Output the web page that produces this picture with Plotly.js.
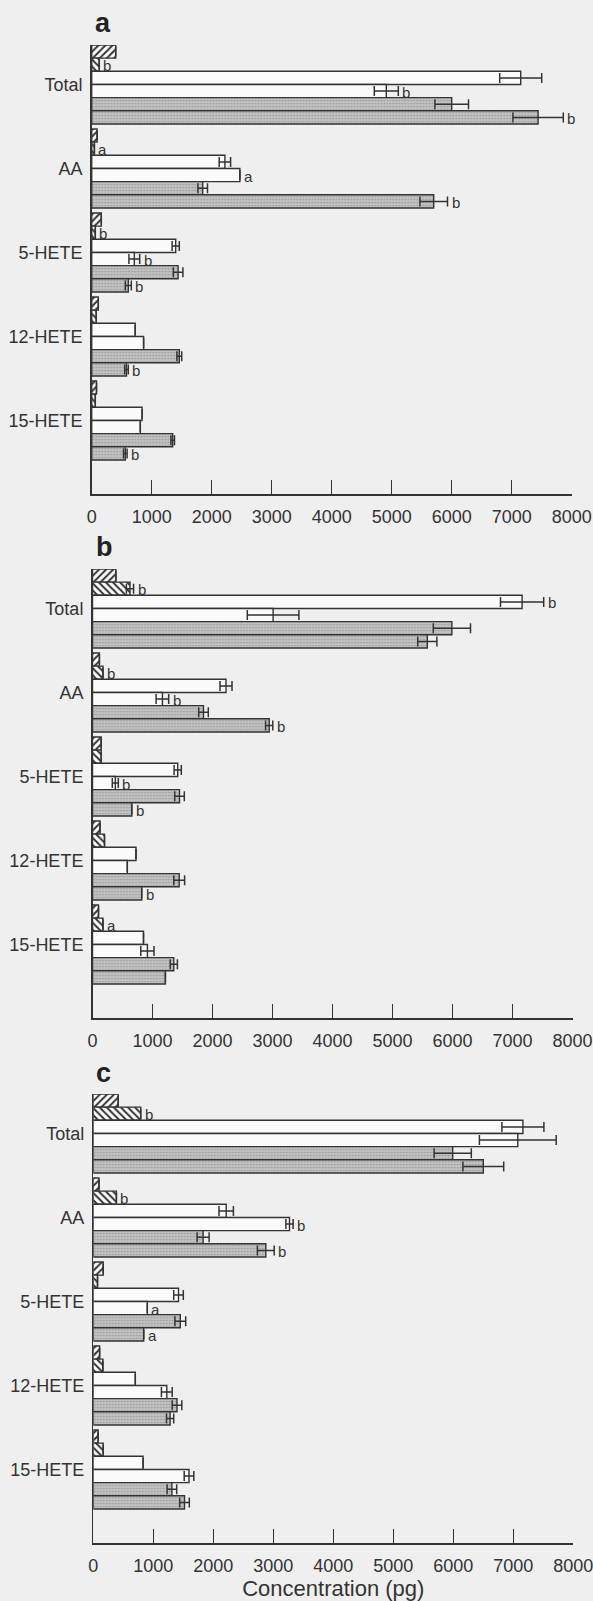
<!DOCTYPE html>
<html>
<head>
<meta charset="utf-8">
<script src="https://cdn.plot.ly/plotly-3.0.1.min.js"></script>
<style>
  html, body { margin: 0; padding: 0; background: #efefef; }
  #chart { width: 593px; height: 1601px; }
</style>
</head>
<body>
<div id="chart"></div>
<script>
// ---------- DATA ----------
const groups = ['Total', 'AA', '5-HETE', '12-HETE', '15-HETE'];
const panelLabels = ['a', 'b', 'c'];
const tickValues = [0, 1000, 2000, 3000, 4000, 5000, 6000, 7000, 8000];
const xTitle = 'Concentration (pg)';

// Panel a
const a_hatch1 = [400, 90, 160, 110, 80];
const a_hatch2 = [125, 45, 60, 75, 60];
const a_white1 = [7150, 2220, 1400, 725, 840];
const a_white2 = [4910, 2470, 710, 865, 810];
const a_gray1  = [6000, 1850, 1440, 1460, 1350];
const a_gray2  = [7440, 5700, 610, 580, 560];
const a_err_hatch1 = [null, null, null, null, null];
const a_err_hatch2 = [null, null, null, null, null];
const a_err_white1 = [350, 95, 60, null, null];
const a_err_white2 = [200, null, 90, null, null];
const a_err_gray1  = [280, 80, 80, 40, 30];
const a_err_gray2  = [420, 230, 50, 30, 30];
const a_sig_hatch1 = ['', '', '', '', ''];
const a_sig_hatch2 = ['b', 'a', 'b', '', ''];
const a_sig_white1 = ['', '', '', '', ''];
const a_sig_white2 = ['b', 'a', 'b', '', ''];
const a_sig_gray1  = ['', '', '', '', ''];
const a_sig_gray2  = ['b', 'b', 'b', 'b', 'b'];

// Panel b
const b_hatch1 = [390, 115, 145, 125, 100];
const b_hatch2 = [625, 175, 145, 200, 175];
const b_white1 = [7160, 2225, 1420, 725, 850];
const b_white2 = [3010, 1165, 380, 580, 915];
const b_gray1  = [5990, 1850, 1450, 1445, 1355];
const b_gray2  = [5580, 2945, 655, 820, 1215];
const b_err_hatch1 = [null, null, null, null, null];
const b_err_hatch2 = [60, null, null, null, null];
const b_err_white1 = [360, 100, 60, null, null];
const b_err_white2 = [430, 105, 50, null, 110];
const b_err_gray1  = [310, 80, 80, 90, 60];
const b_err_gray2  = [160, 60, null, null, null];
const b_sig_hatch1 = ['', '', '', '', ''];
const b_sig_hatch2 = ['b', 'b', '', '', 'a'];
const b_sig_white1 = ['b', '', '', '', ''];
const b_sig_white2 = ['', 'b', 'b', '', ''];
const b_sig_gray1  = ['', '', '', '', ''];
const b_sig_gray2  = ['', 'b', 'b', 'b', ''];

// Panel c
const c_hatch1 = [415, 95, 165, 105, 80];
const c_hatch2 = [790, 385, 70, 160, 165];
const c_white1 = [7160, 2215, 1420, 700, 830];
const c_white2 = [7075, 3270, 900, 1225, 1595];
const c_gray1  = [5990, 1830, 1450, 1395, 1310];
const c_gray2  = [6500, 2875, 840, 1280, 1520];
const c_err_hatch1 = [null, null, null, null, null];
const c_err_hatch2 = [null, null, null, null, null];
const c_err_white1 = [350, 120, 80, null, null];
const c_err_white2 = [640, 60, null, 90, 80];
const c_err_gray1  = [310, 100, 90, 80, 80];
const c_err_gray2  = [340, 140, null, 60, 80];
const c_sig_hatch1 = ['', '', '', '', ''];
const c_sig_hatch2 = ['b', 'b', '', '', ''];
const c_sig_white1 = ['', '', '', '', ''];
const c_sig_white2 = ['', 'b', 'a', '', ''];
const c_sig_gray1  = ['', '', '', '', ''];
const c_sig_gray2  = ['', 'b', 'a', '', ''];

// ---------- STYLE ----------
const INK = '#333333';
const FONT = 'Liberation Sans, Arial, sans-serif';
const W = 593, H = 1601;
const BARGAP = 0.06;
const NS = 6;

const seriesStyles = [
  {color: '#fbfbfb', pattern: {shape: '/', fgcolor: INK, bgcolor: '#fbfbfb', size: 5, solidity: 0.4}},
  {color: '#fbfbfb', pattern: {shape: '\\', fgcolor: INK, bgcolor: '#fbfbfb', size: 5, solidity: 0.4}},
  {color: '#fbfbfb'},
  {color: '#fbfbfb'},
  {color: '#bcbcbc', pattern: {shape: '.', fgcolor: '#999999', bgcolor: '#c2c2c2', size: 3, solidity: 0.25}},
  {color: '#bcbcbc', pattern: {shape: '.', fgcolor: '#999999', bgcolor: '#c2c2c2', size: 3, solidity: 0.25}}
];

const panels = [
  {vals: [a_hatch1, a_hatch2, a_white1, a_white2, a_gray1, a_gray2],
   errs: [a_err_hatch1, a_err_hatch2, a_err_white1, a_err_white2, a_err_gray1, a_err_gray2],
   sigs: [a_sig_hatch1, a_sig_hatch2, a_sig_white1, a_sig_white2, a_sig_gray1, a_sig_gray2],
   x0: 91.7, top: 45, bottom: 494, letterBase: 31},
  {vals: [b_hatch1, b_hatch2, b_white1, b_white2, b_gray1, b_gray2],
   errs: [b_err_hatch1, b_err_hatch2, b_err_white1, b_err_white2, b_err_gray1, b_err_gray2],
   sigs: [b_sig_hatch1, b_sig_hatch2, b_sig_white1, b_sig_white2, b_sig_gray1, b_sig_gray2],
   x0: 92.5, top: 569, bottom: 1018, letterBase: 555},
  {vals: [c_hatch1, c_hatch2, c_white1, c_white2, c_gray1, c_gray2],
   errs: [c_err_hatch1, c_err_hatch2, c_err_white1, c_err_white2, c_err_gray1, c_err_gray2],
   sigs: [c_sig_hatch1, c_sig_hatch2, c_sig_white1, c_sig_white2, c_sig_gray1, c_sig_gray2],
   x0: 93.3, top: 1094, bottom: 1543, letterBase: 1081}
];

const PX_PER_1000 = 60;
const groupIdx = groups.map((g, i) => i);
const half = (1 - BARGAP) / 2;
const yTop = -half;

const traces = [];
const layout = {
  width: W, height: H,
  margin: {l: 0, r: 0, t: 0, b: 0},
  paper_bgcolor: '#efefef',
  plot_bgcolor: 'rgba(0,0,0,0)',
  showlegend: false,
  barmode: 'group',
  bargap: BARGAP,
  bargroupgap: 0,
  font: {family: FONT, color: INK},
  annotations: []
};

panels.forEach((p, pi) => {
  const sfx = pi === 0 ? '' : String(pi + 1);
  const xa = 'x' + sfx, ya = 'y' + sfx;
  const x1 = p.x0 + 8 * PX_PER_1000;
  const plotH = p.bottom - p.top;
  const unitPx = 84;
  const yBottom = yTop + plotH / unitPx;

  p.vals.forEach((v, si) => {
    const st = seriesStyles[si];
    const marker = {color: st.color, line: {color: INK, width: 1.4}};
    if (st.pattern) marker.pattern = st.pattern;
    traces.push({
      type: 'bar', orientation: 'h',
      name: 'Series ' + (si + 1),
      x: v, y: groupIdx,
      xaxis: xa, yaxis: ya,
      marker: marker,
      error_x: {type: 'data', array: p.errs[si], visible: true, color: INK, thickness: 1.5, width: 5},
      hoverinfo: 'x'
    });
    // significance letters next to bars / error bars
    v.forEach((val, k) => {
      const s = p.sigs[si][k];
      if (!s) return;
      layout.annotations.push({
        text: s,
        xref: xa, yref: ya,
        x: val + (p.errs[si][k] || 0),
        y: k - half + (si + 0.5) * (1 - BARGAP) / NS,
        xanchor: 'left', yanchor: 'middle',
        xshift: 2, yshift: -1,
        showarrow: false,
        font: {family: FONT, size: 15, color: INK}
      });
    });
  });

  layout['xaxis' + sfx] = {
    domain: [p.x0 / W, x1 / W],
    anchor: ya,
    range: [0, 8000],
    tickvals: tickValues,
    ticktext: tickValues.map(String),
    ticks: 'inside', ticklen: 14, tickwidth: 1.5, tickcolor: INK,
    showline: true, linecolor: INK, linewidth: 1.5,
    showgrid: false, zeroline: false,
    tickfont: {family: FONT, size: 18, color: INK},
    ticklabelstandoff: 6,
    ticklabeloverflow: 'allow',
    fixedrange: true
  };
  if (pi === 2) {
    layout['xaxis' + sfx].title = {text: xTitle, font: {family: FONT, size: 22, color: INK}, standoff: 13};
  }
  layout['yaxis' + sfx] = {
    domain: [1 - p.bottom / H, 1 - p.top / H],
    anchor: xa,
    range: [yBottom, yTop],
    tickvals: groupIdx,
    ticktext: groups,
    ticks: '',
    showline: true, linecolor: INK, linewidth: 1.5,
    showgrid: false, zeroline: false,
    tickfont: {family: FONT, size: 18, color: INK},
    ticklabelstandoff: 4,
    fixedrange: true
  };
  layout.annotations.push({
    text: '<b>' + panelLabels[pi] + '</b>',
    xref: 'paper', yref: 'paper',
    x: (p.x0 + 1) / W, y: 1 - (p.letterBase - 8) / H,
    xanchor: 'left', yanchor: 'middle',
    showarrow: false,
    font: {family: FONT, size: 27, color: '#222'}
  });
});

Plotly.newPlot('chart', traces, layout, {staticPlot: true, displayModeBar: false});
</script>
</body>
</html>
